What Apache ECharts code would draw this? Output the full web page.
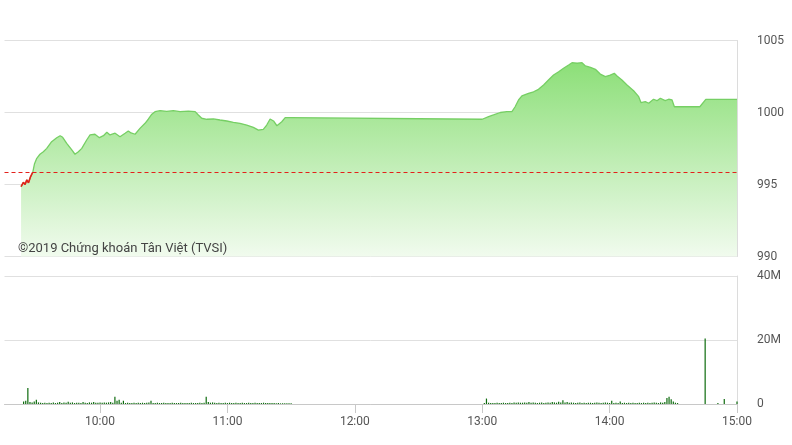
<!DOCTYPE html>
<html><head><meta charset="utf-8">
<script src="https://cdn.jsdelivr.net/npm/echarts@6/dist/echarts.min.js"></script>
<style>html,body{margin:0;padding:0;background:#fff}#c{width:792px;height:445px}</style>
</head><body><div id="c"></div>
<script>
// ---- DATA ----
const priceTimes = [
  '09:22:48','09:23:54','09:24:42','09:25:30','09:26:18','09:27:18','09:28:18','09:29:06','09:30:12','09:31:42',
  '09:33:18','09:34:54','09:37:12','09:39:36','09:41:12','09:42:24','09:44:18','09:46:42','09:48:12','09:49:48',
  '09:51:24','09:53:42','09:55:18','09:57:36','09:59:42','10:01:36','10:03:12','10:04:42','10:07:06','10:09:24',
  '10:11:48','10:13:18','10:14:36','10:16:30','10:18:48','10:21:12','10:22:48','10:24:24','10:25:54','10:28:18',
  '10:31:24','10:34:30','10:37:42','10:41:36','10:44:48','10:46:18','10:47:54','10:50:18','10:53:24','10:56:30',
  '10:59:42','11:02:48','11:05:54','11:09:06','11:12:12','11:14:36','11:16:54','11:18:30','11:20:06','11:21:42',
  '11:23:18','11:25:36','11:27:12','11:29:30','11:30:00',
  '13:00:00','13:03:00','13:05:18','13:08:30','13:11:36','13:14:00','13:15:30','13:17:06','13:18:42','13:21:48',
  '13:24:12','13:26:30','13:28:54','13:31:12','13:33:36','13:36:00','13:38:18','13:40:42','13:42:18','13:44:42',
  '13:47:00','13:48:36','13:51:00','13:53:18','13:55:36','13:58:00','14:00:18','14:02:12','14:03:30','14:05:48',
  '14:08:12','14:11:18','14:13:42','14:14:48','14:16:48','14:18:24','14:20:42','14:22:18','14:23:54','14:26:12',
  '14:27:48','14:29:24','14:30:30','14:42:30','14:45:18','15:00:00'
];
const priceValues = [
  994.85,995.15,995.00,995.32,995.12,995.55,995.85,996.42,996.82,997.10,
  997.28,997.51,997.97,998.25,998.39,998.28,997.86,997.40,997.10,997.28,
  997.51,998.09,998.44,998.49,998.25,998.39,998.63,998.44,998.56,998.32,
  998.56,998.72,998.58,998.49,998.90,999.25,999.55,999.88,1000.06,1000.13,
  1000.08,1000.13,1000.06,1000.10,1000.06,999.83,999.60,999.53,999.55,999.48,
  999.41,999.32,999.25,999.13,998.97,998.78,998.83,999.13,999.55,999.41,
  999.08,999.36,999.64,999.64,999.64,
  999.53,999.71,999.83,1000.00,1000.06,1000.06,1000.40,1000.87,1001.15,1001.33,
  1001.44,1001.61,1001.91,1002.26,1002.60,1002.83,1003.07,1003.30,1003.46,1003.42,
  1003.46,1003.23,1003.14,1003.00,1002.67,1002.49,1002.60,1002.72,1002.53,1002.26,
  1001.91,1001.51,1001.10,1000.68,1000.75,1000.64,1000.92,1000.82,1000.99,1000.82,
  1000.92,1000.87,1000.40,1000.40,1000.91,1000.91
];
const refPrice = 995.83;

// volume, millions, one value per minute
const volMorningStart = '09:24';
const volMorning = [
  0.8,1.0,5.0,0.6,0.5,0.8,1.3,0.5,0.4,0.3, 0.4,0.3,0.4,0.3,0.5,0.3,0.4,0.6,0.3,0.5,
  0.4,0.7,0.4,0.5,0.3,0.4,0.4,0.3,0.6,0.4, 0.3,0.5,0.4,0.6,0.4,0.4,0.5,0.4,0.5,0.4,
  0.5,0.6,0.4,2.3,1.0,1.3,0.4,1.0,0.3,0.4, 0.3,0.3,0.4,0.3,0.4,0.3,0.4,0.3,0.4,0.5,
  1.0,0.3,0.3,0.4,0.3,0.3,0.4,0.3,0.3,0.3, 0.4,0.3,0.3,0.3,0.4,0.3,0.3,0.3,0.3,0.4,
  0.3,0.3,0.3,0.4,0.3,0.4,2.3,0.6,0.4,0.5, 0.4,0.3,0.4,0.3,0.3,0.4,0.3,0.4,0.3,0.3,
  0.4,0.3,0.3,0.4,0.3,0.3,0.4,0.3,0.3,0.4, 0.3,0.3,0.3,0.4,0.3,0.3,0.3,0.3,0.3,0.2,
  0.3,0.2,0.2,0.2,0.2,0.2,0.2
];
const volAfternoonStart = '13:01';
const volAfternoon = [
  0.3,1.7,0.4,0.3,0.3,0.3,0.4,0.3,0.3,0.4, 0.3,0.3,0.4,0.3,0.5,0.4,0.5,0.4,0.4,0.5,
  0.4,0.6,0.4,0.5,0.4,0.3,0.4,0.5,0.3,0.4, 0.5,0.4,0.6,0.5,0.4,0.7,0.5,1.2,0.5,0.6,
  0.4,0.5,0.4,0.3,0.4,0.5,0.3,0.4,0.3,0.4, 0.4,0.3,0.4,0.5,0.4,0.3,0.4,0.5,0.4,0.3,
  1.0,0.3,0.4,0.3,0.8,0.3,0.4,0.3,0.4,0.3, 0.4,0.3,0.3,0.4,0.3,0.4,0.3,0.4,0.3,0.4,
  0.5,0.4,0.3,0.5,0.4,0.6,1.9,2.3,1.5,0.8, 0.4,0.3
];
const volLateTimes = ['14:45','14:51','14:54','15:00'];
const volLate = [20.5,0.3,1.6,0.8];

const timeTicks = ['10:00','11:00','12:00','13:00','14:00','15:00'];
const axisStart = '09:15';
const axisEnd = '15:00';
const priceTicks = [990,995,1000,1005];
const volTicks = [0,20,40];
const watermark = '©2019 Chứng khoán Tân Việt (TVSI)';

// ---- helpers ----
function toMin(s){const p=s.split(':').map(Number);return p[0]*60+p[1]+(p[2]||0)/60;}
function fmt(m){const h=Math.floor(m/60),mm=Math.round(m-h*60);return h+':'+(mm<10?'0':'')+mm;}

const priceData = priceTimes.map((t,i)=>[toMin(t),priceValues[i]]);
// segment of the price line that lies below the reference price (drawn red)
const belowRef = [];
for (let i=0;i<priceData.length;i++){ if(i===0||priceData[i-1][1]<refPrice){belowRef.push(priceData[i]);} else break; }
const volData = [];
volMorning.forEach((v,i)=>volData.push([toMin(volMorningStart)+i,v]));
volAfternoon.forEach((v,i)=>volData.push([toMin(volAfternoonStart)+i,v]));
volLate.forEach((v,i)=>volData.push([toMin(volLateTimes[i]),v]));
const tickVals = timeTicks.map(toMin);

const FONT='Roboto';
const chart = echarts.init(document.getElementById('c'),null,{renderer:'canvas'});
chart.setOption({
  animation:false,
  backgroundColor:'#fff',
  grid:[
    {left:4.5,right:55,top:40.5,height:216},
    {left:4.5,right:55,top:276,height:128}
  ],
  xAxis:[
    {type:'value',gridIndex:0,min:toMin(axisStart),max:toMin(axisEnd),
     axisLine:{show:false},axisTick:{show:false},axisLabel:{show:false},splitLine:{show:false}},
    {type:'value',gridIndex:1,min:toMin(axisStart),max:toMin(axisEnd),
     axisLine:{show:true,lineStyle:{color:'#c8c8c8'}},
     axisTick:{show:true,length:9,customValues:tickVals,lineStyle:{color:'#c8c8c8'}},
     axisLabel:{show:true,customValues:tickVals,formatter:v=>fmt(v),color:'#555',fontSize:12,fontFamily:FONT,margin:12},
     splitLine:{show:false}}
  ],
  yAxis:[
    {type:'value',gridIndex:0,position:'right',min:priceTicks[0],max:priceTicks[priceTicks.length-1],interval:5,
     axisLine:{show:true,lineStyle:{color:'#dcdcdc'}},axisTick:{show:false},
     axisLabel:{color:'#555',fontSize:12,fontFamily:FONT,margin:20,formatter:v=>String(v)},
     splitLine:{show:true,lineStyle:{color:'#e0e0e0'}}},
    {type:'value',gridIndex:1,position:'right',min:volTicks[0],max:volTicks[volTicks.length-1],interval:20,
     axisLine:{show:true,lineStyle:{color:'#dcdcdc'}},axisTick:{show:false},
     axisLabel:{color:'#555',fontSize:12,fontFamily:FONT,margin:20,formatter:v=>v===0?'0':v+'M'},
     splitLine:{show:true,lineStyle:{color:'#e0e0e0'}}}
  ],
  graphic:[{type:'text',left:18,top:242,z:100,
    style:{text:watermark,fontSize:13,fontFamily:FONT,fill:'#444'}}],
  series:[
    {type:'line',xAxisIndex:0,yAxisIndex:0,data:priceData,showSymbol:false,symbol:'none',
     lineStyle:{width:1.3,color:'#76cf64'},
     areaStyle:{origin:'start',opacity:1,color:new echarts.graphic.LinearGradient(0,0,0,1,[
       {offset:0,color:'#8cdf78'},{offset:1,color:'#f1fbee'}])},
     markLine:{silent:true,symbol:'none',label:{show:false},
       lineStyle:{color:'#e3201b',type:[4,3],width:1},
       data:[{yAxis:refPrice}]}},
    {type:'line',xAxisIndex:0,yAxisIndex:0,data:belowRef,showSymbol:false,symbol:'none',z:3,
     lineStyle:{width:1.6,color:'#e3201b'}},
    {type:'bar',xAxisIndex:1,yAxisIndex:1,data:volData,barWidth:1.2,
     itemStyle:{color:'#0d6b0d'}}
  ]
});
</script></body></html>
